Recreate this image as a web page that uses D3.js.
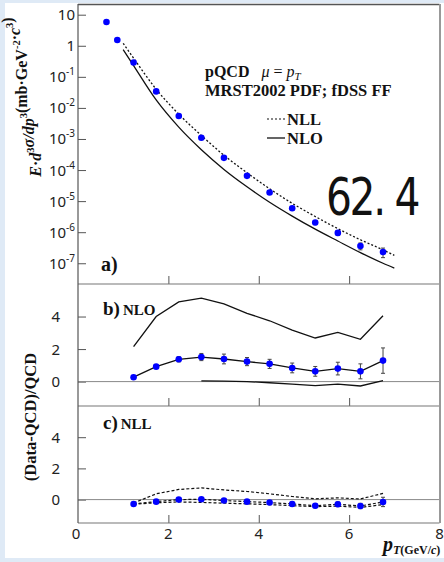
<!DOCTYPE html>
<html>
<head>
<meta charset="utf-8">
<script src="https://cdn.jsdelivr.net/npm/d3@7"></script>
<style>
  html, body { margin: 0; padding: 0; background: #ffffff; }
  svg { display: block; }
</style>
</head>
<body>
<svg id="chart" width="444" height="562"></svg>
<script>
// ---- measured pi0 invariant yield, sqrt(s) = 62.4 GeV ----
const ptData = [0.63, 0.87, 1.23, 1.73, 2.23, 2.73, 3.23, 3.74, 4.24, 4.74, 5.25, 5.75, 6.25, 6.75];
const yieldData = [5.8, 1.53, 0.29, 0.034, 0.0055, 1.09e-3, 2.47e-4, 6.5e-5, 1.9e-5, 5.9e-6, 2.05e-6, 9.5e-7, 3.6e-7, 2.3e-7];
const yieldRelErr = [0.02, 0.02, 0.03, 0.04, 0.06, 0.08, 0.1, 0.1, 0.11, 0.13, 0.15, 0.18, 0.25, 0.34];

// ---- pQCD curves ----
const ptTheory = [1.0, 1.23, 1.73, 2.23, 2.73, 3.23, 3.74, 4.24, 4.74, 5.25, 5.75, 6.25, 6.75, 7.0];
const nllCurve = [1.2, 0.40, 0.040, 6.3e-3, 1.3e-3, 3.0e-4, 8.2e-5, 2.5e-5, 8.5e-6, 3.2e-6, 1.3e-6, 5.7e-7, 2.7e-7, 1.8e-7];
const nloCurve = [0.75, 0.23, 0.018, 2.4e-3, 4.5e-4, 1.05e-4, 2.9e-5, 9.2e-6, 3.3e-6, 1.25e-6, 5.2e-7, 2.2e-7, 1.0e-7, 7.0e-8];

// ---- (Data-QCD)/QCD, points above 1 GeV/c ----
const ptRatio = [1.23, 1.73, 2.23, 2.73, 3.23, 3.74, 4.24, 4.74, 5.25, 5.75, 6.25, 6.75];
const ratioNLO = [0.27, 0.92, 1.37, 1.51, 1.39, 1.23, 1.09, 0.84, 0.63, 0.80, 0.63, 1.29];
const ratioNLOErr = [0.06, 0.1, 0.16, 0.22, 0.3, 0.25, 0.28, 0.3, 0.3, 0.39, 0.46, 0.78];
const nloScaleHigh = [2.15, 4.0, 4.9, 5.13, 4.78, 4.2, 3.74, 3.17, 2.68, 3.03, 2.6, 4.05];
const ptNloLow = [2.73, 3.23, 3.74, 4.24, 4.74, 5.25, 5.75, 6.25, 6.75];
const nloScaleLow = [0.04, 0.03, 0.0, -0.07, -0.15, -0.25, -0.15, -0.27, 0.06];

const ratioNLL = [-0.28, -0.13, 0.0, 0.02, -0.06, -0.13, -0.19, -0.28, -0.39, -0.3, -0.41, -0.15];
const ratioNLLErr = [0.04, 0.05, 0.06, 0.07, 0.1, 0.1, 0.12, 0.13, 0.13, 0.15, 0.17, 0.3];
const nllScaleHigh = [-0.22, 0.37, 0.65, 0.75, 0.62, 0.52, 0.37, 0.2, 0.05, 0.11, 0.04, 0.4];
const nllScaleLow = [-0.3, -0.2, -0.15, -0.18, -0.23, -0.27, -0.32, -0.39, -0.45, -0.42, -0.5, -0.32];

// ---- tick labels ----
const xTickLabels = [0, 2, 4, 6, 8];
const logTickExps = [1, 0, -1, -2, -3, -4, -5, -6, -7];
const ratioTickLabels = [0, 2, 4];

// ---- layout ----
const svg = d3.select("#chart");
const W = 444, H = 562;
const left = 78, right = 439.5;
const panA = { top: 4, bottom: 284 };
const panB = { top: 284, bottom: 406 };
const panC = { top: 406, bottom: 523 };

const serif = "'Liberation Serif', 'Times New Roman', serif";
const sans = "'Noto Sans', 'DejaVu Sans', sans-serif";

// frame background
svg.append("rect").attr("width", W).attr("height", H).attr("fill", "#dfeaf6");
svg.append("rect").attr("x", 5).attr("y", 3).attr("width", W - 5).attr("height", 555).attr("fill", "#ffffff");

const x = d3.scaleLinear().domain([0, 8]).range([left, right]);
const yA = d3.scaleLog().domain([2.15e-8, 22.1]).range([panA.bottom, panA.top]);
const yB = d3.scaleLinear().domain([-1.5, 6]).range([panB.bottom, panB.top]);
const yC = d3.scaleLinear().domain([-1.5, 6]).range([panC.bottom, panC.top]);

const axisColor = "#555";

// ---- ticks along the bottom of each panel (pointing inward) ----
function xTicks(yPos) {
  const g = svg.append("g").attr("transform", `translate(0,${yPos})`);
  g.call(d3.axisBottom(x).tickValues(d3.range(0.5, 8, 0.5).filter(v => v % 2 !== 0))
      .tickSize(-4).tickFormat(""));
  g.call(d3.axisBottom(x).tickValues([2, 4, 6]).tickSize(-8).tickFormat(""));
  g.select(".domain").remove();
  g.selectAll("line").attr("stroke", axisColor).attr("stroke-width", 1);
  return g;
}
xTicks(panA.bottom);
xTicks(panB.bottom);
xTicks(panC.bottom);

// ---- y ticks, panel a (log) ----
{
  const minor = [];
  for (let e = -8; e <= 1; e++) for (let m = 2; m <= 9; m++) {
    const v = m * Math.pow(10, e);
    if (v > yA.domain()[0] && v < yA.domain()[1]) minor.push(v);
  }
  const g = svg.append("g").attr("transform", `translate(${left},0)`);
  g.call(d3.axisRight(yA).tickValues(minor).tickSize(4).tickFormat(""));
  g.call(d3.axisRight(yA).tickValues(logTickExps.map(e => Math.pow(10, e))).tickSize(8).tickFormat(""));
  g.select(".domain").remove();
  g.selectAll("line").attr("stroke", axisColor).attr("stroke-width", 1);

  logTickExps.forEach(e => {
    const t = svg.append("text")
      .attr("x", 75).attr("y", yA(Math.pow(10, e)) + 5.5)
      .attr("text-anchor", "end")
      .attr("font-family", sans).attr("font-size", 15).attr("fill", "#222");
    if (e === 1) t.text("10");
    else if (e === 0) t.text("1");
    else {
      t.append("tspan").text("10");
      t.append("tspan").attr("dy", -7).attr("font-size", 10).text(String(e));
    }
  });
}

// ---- y ticks, ratio panels ----
function ratioTicks(yScale) {
  const g = svg.append("g").attr("transform", `translate(${left},0)`);
  g.call(d3.axisRight(yScale).tickValues([-1, 1, 3, 5]).tickSize(4).tickFormat(""));
  g.call(d3.axisRight(yScale).tickValues([0, 2, 4]).tickSize(8).tickFormat(""));
  g.select(".domain").remove();
  g.selectAll("line").attr("stroke", axisColor).attr("stroke-width", 1);
  ratioTickLabels.forEach(v => {
    svg.append("text").attr("x", 60).attr("y", yScale(v) + 5.5)
      .attr("text-anchor", "end").attr("font-family", sans).attr("font-size", 15)
      .attr("fill", "#222").text(v);
  });
  // zero reference
  svg.append("line").attr("x1", left).attr("x2", right)
    .attr("y1", yScale(0)).attr("y2", yScale(0))
    .attr("stroke", "#888").attr("stroke-width", 1);
}
ratioTicks(yB);
ratioTicks(yC);

// x tick labels
xTickLabels.forEach(v => {
  svg.append("text").attr("x", x(v) - (v === 0 ? 2 : 0)).attr("y", 539)
    .attr("text-anchor", "middle").attr("font-family", sans).attr("font-size", 15)
    .attr("fill", "#222").text(v);
});

// ---- frame lines ----
svg.append("line").attr("x1", left).attr("x2", right).attr("y1", panA.top + 0.5).attr("y2", panA.top + 0.5)
  .attr("stroke", "#555").attr("stroke-width", 1.5);
[panA.bottom, panB.bottom, panC.bottom].forEach(yy => {
  svg.append("line").attr("x1", left).attr("x2", right).attr("y1", yy).attr("y2", yy)
    .attr("stroke", "#777").attr("stroke-width", 1.2);
});
svg.append("line").attr("x1", left).attr("x2", left).attr("y1", panA.top).attr("y2", panC.bottom)
  .attr("stroke", "#555").attr("stroke-width", 1.2);
svg.append("line").attr("x1", right + 0.5).attr("x2", right + 0.5).attr("y1", panA.top).attr("y2", panC.bottom)
  .attr("stroke", "#999").attr("stroke-width", 2);

// ---- panel a: spectrum ----
const lineA = (vals) => d3.line().x((d, i) => x(ptTheory[i])).y(d => yA(d)).curve(d3.curveMonotoneX)(vals);
svg.append("path").attr("d", lineA(nllCurve)).attr("fill", "none")
  .attr("stroke", "#111").attr("stroke-width", 1.3).attr("stroke-dasharray", "2,2");
svg.append("path").attr("d", lineA(nloCurve)).attr("fill", "none")
  .attr("stroke", "#111").attr("stroke-width", 1.3);

function errorBars(xs, ys, lo, hi, yScale) {
  xs.forEach((p, i) => {
    const y1 = yScale(lo[i]), y2 = yScale(hi[i]);
    if (Math.abs(y1 - y2) < 1) return;
    const cx = x(p);
    svg.append("line").attr("x1", cx).attr("x2", cx).attr("y1", y1).attr("y2", y2)
      .attr("stroke", "#444").attr("stroke-width", 1);
    [y1, y2].forEach(yy => svg.append("line").attr("x1", cx - 2).attr("x2", cx + 2)
      .attr("y1", yy).attr("y2", yy).attr("stroke", "#444").attr("stroke-width", 1));
  });
}
errorBars(ptData, yieldData,
  yieldData.map((v, i) => v * (1 - yieldRelErr[i])),
  yieldData.map((v, i) => v * (1 + yieldRelErr[i])), yA);

svg.append("g").selectAll("circle").data(yieldData).join("circle")
  .attr("cx", (d, i) => x(ptData[i])).attr("cy", d => yA(d)).attr("r", 3.3).attr("fill", "#0000ff");

// ---- panel b: relative to NLO ----
const lineR = (xs, ys, yScale) => d3.line().x((d, i) => x(xs[i])).y(d => yScale(d))(ys);
svg.append("path").attr("d", lineR(ptRatio, nloScaleHigh, yB)).attr("fill", "none")
  .attr("stroke", "#111").attr("stroke-width", 1.3);
svg.append("path").attr("d", lineR(ptNloLow, nloScaleLow, yB)).attr("fill", "none")
  .attr("stroke", "#111").attr("stroke-width", 1.3);
svg.append("path").attr("d", lineR(ptRatio, ratioNLO, yB)).attr("fill", "none")
  .attr("stroke", "#111").attr("stroke-width", 1.3);
errorBars(ptRatio, ratioNLO, ratioNLO.map((v, i) => v - ratioNLOErr[i]),
  ratioNLO.map((v, i) => v + ratioNLOErr[i]), yB);
svg.append("g").selectAll("circle").data(ratioNLO).join("circle")
  .attr("cx", (d, i) => x(ptRatio[i])).attr("cy", d => yB(d)).attr("r", 3.3).attr("fill", "#0000ff");

// ---- panel c: relative to NLL ----
[nllScaleHigh, nllScaleLow, ratioNLL].forEach(arr => {
  svg.append("path").attr("d", lineR(ptRatio, arr, yC)).attr("fill", "none")
    .attr("stroke", "#111").attr("stroke-width", 1.2).attr("stroke-dasharray", "3,2");
});
errorBars(ptRatio, ratioNLL, ratioNLL.map((v, i) => v - ratioNLLErr[i]),
  ratioNLL.map((v, i) => v + ratioNLLErr[i]), yC);
svg.append("g").selectAll("circle").data(ratioNLL).join("circle")
  .attr("cx", (d, i) => x(ptRatio[i])).attr("cy", d => yC(d)).attr("r", 3.3).attr("fill", "#0000ff");

// ---- annotations ----
function bold(xp, yp, size) {
  return svg.append("text").attr("x", xp).attr("y", yp).attr("font-family", serif)
    .attr("font-weight", "bold").attr("font-size", size).attr("fill", "#111");
}
{
  const t = bold(205, 77, 16);
  t.append("tspan").text("pQCD");
  t.append("tspan").attr("dx", 12).attr("font-style", "italic").attr("font-weight", "normal").text("μ");
  t.append("tspan").attr("font-weight", "normal").text(" = ");
  t.append("tspan").attr("font-style", "italic").attr("font-weight", "normal").text("p");
  t.append("tspan").attr("font-style", "italic").attr("font-weight", "normal")
    .attr("font-size", 11).attr("dy", 3).text("T");
}
bold(205, 96, 16.5).text("MRST2002 PDF; fDSS FF");

// legend
svg.append("line").attr("x1", 267).attr("x2", 285).attr("y1", 119).attr("y2", 119)
  .attr("stroke", "#111").attr("stroke-width", 1.2).attr("stroke-dasharray", "2,2");
bold(287, 124.5, 16.5).text("NLL");
svg.append("line").attr("x1", 267).attr("x2", 285).attr("y1", 138).attr("y2", 138)
  .attr("stroke", "#111").attr("stroke-width", 1.3);
bold(287, 143.5, 16.5).text("NLO");

// beam energy, drawn in a narrowed face
svg.append("g").attr("transform", "translate(326,215) scale(0.8,1)")
  .append("text").attr("x", 0).attr("y", 0)
  .attr("font-family", "'DejaVu Sans', sans-serif").attr("font-size", 51).attr("fill", "#111")
  .attr("textLength", 118).attr("lengthAdjust", "spacing").text("62. 4");

// panel tags
bold(101, 271, 20).text("a)");
{
  const t = bold(103, 315, 19);
  t.append("tspan").text("b)");
  t.append("tspan").attr("dx", 3).attr("font-size", 15).text("NLO");
}
{
  const t = bold(103, 429, 19);
  t.append("tspan").text("c)");
  t.append("tspan").attr("dx", 3).attr("font-size", 15).text("NLL");
}

// y titles
{
  const t = svg.append("text").attr("transform", "translate(41,97) rotate(-90)")
    .attr("text-anchor", "middle").attr("font-family", serif).attr("font-weight", "bold")
    .attr("font-size", 16).attr("fill", "#111");
  const sup = (s) => { t.append("tspan").attr("dy", -7).attr("font-size", 10.5).text(s); t.append("tspan").attr("dy", 7).text(""); };
  t.append("tspan").attr("font-style", "italic").text("E");
  t.append("tspan").text("·");
  t.append("tspan").attr("font-style", "italic").text("d");
  sup("3");
  t.append("tspan").attr("font-style", "italic").text("σ/dp");
  sup("3");
  t.append("tspan").text("(mb·GeV");
  sup("-2");
  t.append("tspan").text("·");
  t.append("tspan").attr("font-style", "italic").text("c");
  sup("3");
  t.append("tspan").text(")");
}
svg.append("text").attr("transform", "translate(36,417) rotate(-90)")
  .attr("text-anchor", "middle").attr("font-family", serif).attr("font-weight", "bold")
  .attr("font-size", 16.5).attr("fill", "#111").text("(Data-QCD)/QCD");

// x title
{
  const t = bold(383, 551, 20);
  t.append("tspan").attr("font-style", "italic").text("p");
  t.append("tspan").attr("font-style", "italic").attr("font-size", 12).attr("dy", 3).text("T");
  t.append("tspan").attr("font-size", 12).text("(GeV/");
  t.append("tspan").attr("font-size", 12).attr("font-style", "italic").text("c");
  t.append("tspan").attr("font-size", 12).text(")");
}
</script>
</body>
</html>
